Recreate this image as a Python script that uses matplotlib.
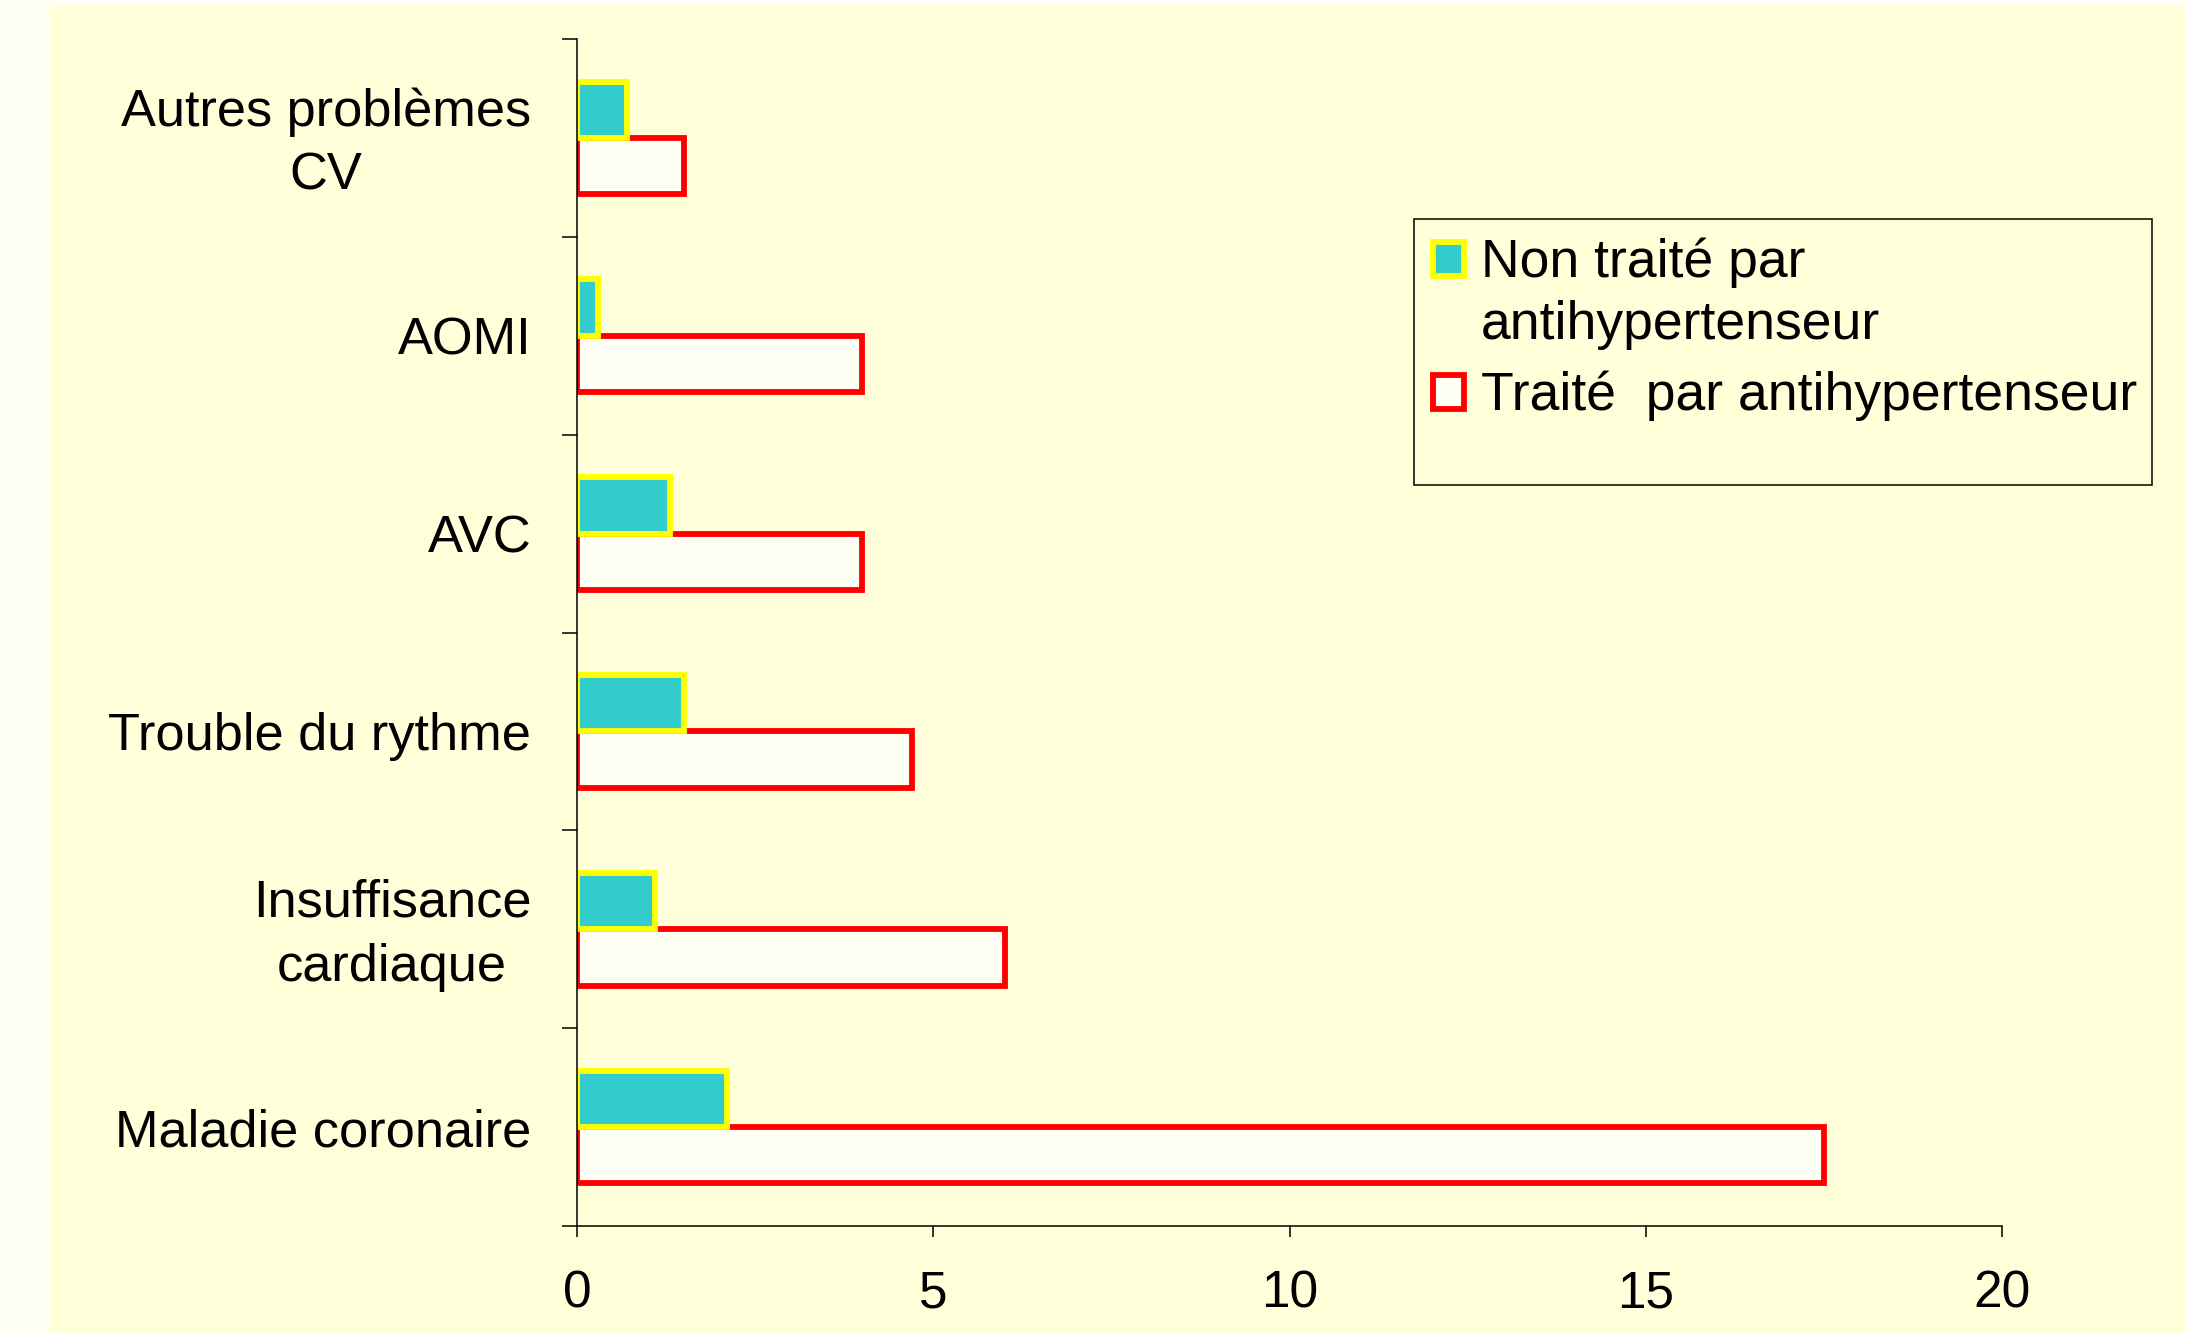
import matplotlib.pyplot as plt
from matplotlib.patches import Rectangle
from matplotlib.transforms import ScaledTranslation
import numpy as np

plt.rcParams["font.family"] = ["Liberation Sans", "DejaVu Sans"]

# data (bottom to top)
categories = [
    "Maladie coronaire",
    "Insuffisance\ncardiaque",
    "Trouble du rythme",
    "AVC",
    "AOMI",
    "Autres problèmes\nCV",
]
non_traite = [2.1, 1.1, 1.5, 1.3, 0.3, 0.7]
traite = [17.5, 6.0, 4.7, 4.0, 4.0, 1.5]
x_ticks = [0, 5, 10, 15, 20]

ivory = "#FFFFF3"
pale_yellow = "#FFFFDA"

fig = plt.figure(figsize=(21.85, 13.33), dpi=100, facecolor=ivory)
# yellow slide background
fig.patches.append(Rectangle((50 / 2185, 0), 1, 1327 / 1333, transform=fig.transFigure,
                             facecolor=pale_yellow, edgecolor="none", zorder=-1))

ax = fig.add_axes([577 / 2185, 107 / 1333, 1425 / 2185, 1187 / 1333])
ax.set_facecolor("none")
ax.set_zorder(1)

pos = np.arange(len(categories))
h = 0.285
ax.barh(pos - h / 2, traite, height=h, color="#FFFFF5", edgecolor="#FF0000", linewidth=4.2)
ax.barh(pos + h / 2, non_traite, height=h, color="#33CCCC", edgecolor="#FFFF00", linewidth=4.2)

ax.set_xlim(0, 20)
ax.set_ylim(-0.5, len(categories) - 0.5)
ax.spines["top"].set_visible(False)
ax.spines["right"].set_visible(False)
for s in ["left", "bottom"]:
    ax.spines[s].set_linewidth(1.1)
    ax.spines[s].set_zorder(3)

ax.set_xticks(x_ticks)
ax.set_xticklabels([str(v) for v in x_ticks])
ax.tick_params(axis="x", direction="out", length=8, width=1.1, pad=23, labelsize=37)

ax.set_yticks(np.arange(len(categories) + 1) - 0.5)
ax.set_yticklabels([])
ax.tick_params(axis="y", which="major", direction="out", length=11, width=1.1)
ax.set_yticks(pos, minor=True)
ax.set_yticklabels(categories, minor=True, fontsize=37.7, multialignment="center", linespacing=1.4)
ax.tick_params(axis="y", which="minor", length=0, pad=33)
# two-line labels sit a touch higher in the original
for lab in ax.get_yticklabels(minor=True):
    if "\n" in lab.get_text():
        lab.set_transform(lab.get_transform() + ScaledTranslation(0, 5 / 72, fig.dpi_scale_trans))

# legend box drawn by hand
W, H = 2185, 1333
fig.patches.append(Rectangle((1414 / W, 1 - 485 / H), 738 / W, 266 / H, transform=fig.transFigure,
                             facecolor="none", edgecolor="black", linewidth=1.1, zorder=5))
fig.patches.append(Rectangle((1433 / W, 1 - 276 / H), 31 / W, 34 / H, transform=fig.transFigure,
                             facecolor="#33CCCC", edgecolor="#FFFF00", linewidth=4.2, zorder=5))
fig.patches.append(Rectangle((1433 / W, 1 - 409 / H), 31 / W, 34 / H, transform=fig.transFigure,
                             facecolor="#FFFFF5", edgecolor="#FF0000", linewidth=4.2, zorder=5))
fig.text(1481 / W, 1 - 277 / H, "Non traité par", fontsize=38.5, va="baseline")
fig.text(1481 / W, 1 - 339 / H, "antihypertenseur", fontsize=38.5, va="baseline")
fig.text(1481 / W, 1 - 410 / H, "Traité  par antihypertenseur", fontsize=38.5, va="baseline")

plt.savefig("out.png", dpi=100, facecolor=ivory)
